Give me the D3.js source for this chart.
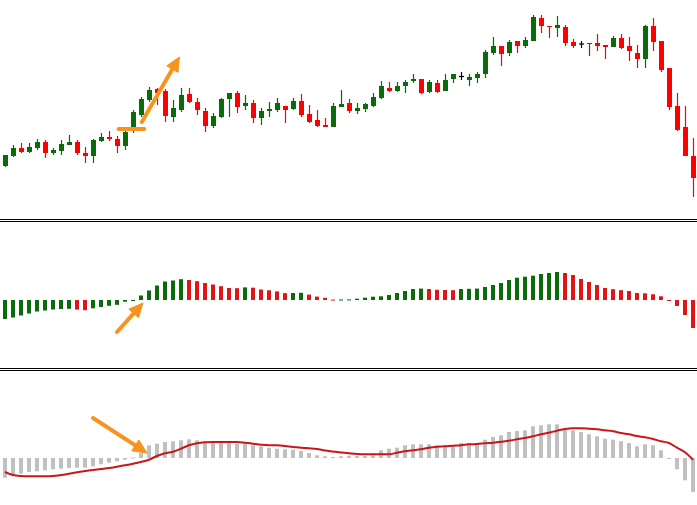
<!DOCTYPE html>
<html>
<head>
<meta charset="utf-8">
<script src="https://cdn.jsdelivr.net/npm/d3@7"></script>
<style>
  html, body { margin: 0; padding: 0; background: #ffffff; overflow: hidden; }
  svg { display: block; }
</style>
</head>
<body>
<div id="wrapper"></div>
<script>
// price bars (one entry per candle)
const opens = [34, 44, 52, 48, 52, 58, 47, 49, 55, 58, 47, 44, 59, 63, 61, 54, 72, 85, 100, 111,
  109, 83, 90, 106, 98, 89, 74, 83, 101, 107, 94, 97, 82, 89, 90, 94, 91, 99, 86, 80,
  75, 73, 93, 97, 89, 91, 94, 102, 112, 109, 114, 119, 121, 108, 117, 109, 121, 123.5, 120, 122,
  126, 147, 154, 147, 159, 154, 159, 182, 174, 172, 173, 158, 156, 156, 157, 155, 153, 162, 154, 147,
  141, 174, 159, 132, 94, 73, 44]
const highs = [45, 55, 57, 57, 61, 60, 52, 60, 65, 60, 53, 61, 67, 69, 64, 72, 90, 103, 113, 112,
  111, 100, 112, 112, 102, 92, 87, 102, 107, 109, 105, 100, 92, 98, 102, 94, 102, 106, 95, 90,
  82, 97, 110, 101, 97, 97, 107, 119, 118, 118, 120, 126, 121, 120, 120, 126, 126, 128, 126, 128,
  150, 163, 154, 160, 159, 163, 185, 185, 174, 184, 175, 161, 159, 157, 166, 155, 164, 166, 163, 155,
  175, 182, 159, 132, 107, 94, 62]
const lows = [33, 43, 47, 47, 50, 42, 45, 45, 55, 45, 37, 37, 58, 59, 47, 50, 67, 83, 98, 95,
  78, 78, 88, 97, 85, 68, 72, 82, 83, 87, 90, 77, 75, 83, 88, 77, 90, 83, 77, 73,
  73, 73, 93, 87, 86, 88, 93, 101, 108, 108, 107, 117, 106, 107, 107, 109, 117, 120, 114, 117,
  122, 145, 134, 144, 147, 152, 159, 167, 162, 163, 154, 152, 152, 144, 149, 141, 153, 151, 139, 132,
  132, 149, 128, 90, 69, 44, 3]
const closes = [45, 52, 48, 53, 58, 47, 50, 56, 58, 47, 44, 60, 63, 61, 54, 68, 88, 101, 110, 107,
  84, 92, 105, 98, 90, 74, 84, 101, 107, 93, 97, 82, 89, 91, 97, 90, 99, 85, 78, 74,
  73, 94, 96, 89, 92, 96, 103, 114, 109, 114, 118, 121, 107, 118, 108, 120, 126, 123.5, 123, 126,
  148, 154, 146, 158, 154, 160, 183, 174, 173, 175, 157, 154, 156, 157, 154, 153, 162, 152, 149, 141,
  174, 158, 130, 93, 70, 44, 22]

// oscillator histogram (middle pane)
const oscValues = [-19, -17.5, -15.5, -13.5, -11.5, -10.5, -9.5, -9, -8.8, -9.6,
  -10.2, -8.3, -7, -5.8, -4.8, -1.7, -0.8, 4.5, 9.5, 14.5,
  18.5, 19.5, 20.8, 20, 18.8, 17, 15.5, 13.8, 12, 11.8,
  12.6, 12.3, 10.5, 9.7, 8.6, 6.8, 7, 7.2, 5.4, 3.4,
  2.2, 0.4, 0.5, 0.6, 1.3, 2.3, 3.3, 3.7, 5, 7,
  9, 11, 11.4, 11, 10.2, 10, 9.8, 11, 11.2, 11.4,
  13, 15, 17, 20, 22.3, 23.3, 24.3, 26, 27, 28,
  27, 25, 21, 18, 15, 12, 10.8, 9.8, 9, 7,
  6.7, 5.7, 3.7, -0.6, -6, -15, -28]

// MACD main (grey histogram) and signal line (bottom pane)
const macdValues = [-19.7, -17.3, -15.7, -14, -13.3, -12.3, -11.3, -10.7, -10, -9.7,
  -9.7, -8.3, -6.3, -4.7, -3.3, -1.7, 0.5, 5, 12.7, 14.3,
  16, 16.7, 17.7, 18.7, 17.7, 16.7, 16, 16, 15, 14.3,
  14.3, 12.7, 11.7, 10.3, 9.3, 8.7, 8.3, 7, 5, 2.7,
  1.7, 1, 1.7, 2.3, 2, 2, 2.7, 7.7, 9.3, 10.3,
  12.7, 13.7, 13.7, 13.7, 12.7, 12.7, 12.7, 15, 15, 15,
  18.3, 21, 22.7, 26, 27, 27.7, 31.7, 32.7, 33.7, 33.7,
  29.3, 27.7, 26, 23.7, 21.7, 19.3, 18.3, 16.7, 15, 11.7,
  13.7, 12.7, 7.7, -0.7, -11.3, -22.3, -34]
const signalValues = [-14, -17, -18, -18.3, -18.3, -18.3, -18, -17, -15.7, -14.3,
  -13, -12, -11, -10, -8.7, -7.3, -5.7, -4, -1.7, 2,
  4.7, 6.3, 9.3, 12.7, 14.7, 15.7, 16, 16, 16, 16,
  15.3, 14.3, 13.3, 12.7, 12.7, 12, 11, 10.3, 9.7, 9,
  7.5, 6.5, 5.5, 4.7, 4, 3.7, 3.7, 3.7, 3.7, 5.3,
  6.7, 7.7, 8.7, 10.3, 11.3, 11.7, 12.3, 12.7, 13.7, 14,
  14.7, 15.3, 16.3, 17.3, 18.7, 20, 21.7, 23.7, 25.3, 27.3,
  29, 29.7, 29.7, 29.3, 28.7, 27.7, 26.7, 25, 23.7, 22,
  20.7, 19, 16.7, 15, 10.3, 5.7, -1.7]

// hand drawn marks: [bar index, value]
const breakoutLine = [[14.2, 71], [17.4, 71]]
const priceArrow = [[17.1, 78], [21.8, 143]]
const oscArrow = [[14, -32], [17.25, -3]]
const macdArrow = [[11, 40], [17.75, 5]]

function drawChart() {
  const candles = opens.map((o, i) => ({
    i, open: o, high: highs[i], low: lows[i], close: closes[i]
  }))

  // 1. Dimensions
  const dimensions = {
    width: 697,
    height: 505,
    price: { top: 0, bottom: 200 },
    osc: { zero: 300 },
    macd: { zero: 458 },
    separators: [219.5, 221.5, 368.5, 370.5]
  }

  const green = "#0b6b0b"
  const red = "#ff0000"
  const histRed = "#e01515"
  const grey = "#c0c0c0"
  const orange = "#f7931e"

  // 2. Canvas
  const svg = d3.select("#wrapper")
    .append("svg")
      .attr("width", dimensions.width)
      .attr("height", dimensions.height)

  // 3. Scales
  const xScale = d3.scaleBand()
    .domain(d3.range(candles.length))
    .range([1, dimensions.width])
  const step = xScale.bandwidth()
  const xMid = i => xScale(0) + step * i + step / 2

  const priceScale = d3.scaleLinear()
    .domain([0, 200])
    .range([dimensions.price.bottom, dimensions.price.top])

  const oscScale = d3.scaleLinear()
    .domain([-40, 40])
    .range([dimensions.osc.zero + 40, dimensions.osc.zero - 40])

  const macdScale = d3.scaleLinear()
    .domain([-40, 40])
    .range([dimensions.macd.zero + 40, dimensions.macd.zero - 40])

  // 4. Pane separators
  svg.append("g")
    .selectAll("line")
    .data(dimensions.separators)
    .join("line")
      .attr("x1", 0)
      .attr("x2", dimensions.width)
      .attr("y1", d => d)
      .attr("y2", d => d)
      .attr("stroke", "#000")
      .attr("stroke-width", 1.2)

  // 5. Candles
  const candleColor = d => d.close > d.open ? green : d.close < d.open ? red : "#000"
  const candleGroups = svg.append("g")
    .selectAll("g")
    .data(candles)
    .join("g")

  candleGroups.append("line")
      .attr("x1", d => xScale(d.i) + 4.5)
      .attr("x2", d => xScale(d.i) + 4.5)
      .attr("y1", d => priceScale(d.high))
      .attr("y2", d => priceScale(d.low))
      .attr("stroke", candleColor)
      .attr("stroke-width", 1.2)

  candleGroups.append("rect")
      .attr("x", d => xScale(d.i) + 2)
      .attr("width", 5)
      .attr("y", d => d.open === d.close
        ? priceScale(d.open) - 0.6
        : priceScale(Math.max(d.open, d.close)))
      .attr("height", d => d.open === d.close
        ? 1.2
        : Math.max(1, Math.abs(priceScale(d.open) - priceScale(d.close))))
      .attr("fill", candleColor)

  // 6. Oscillator histogram
  svg.append("g")
    .selectAll("rect")
    .data(oscValues)
    .join("rect")
      .attr("x", (d, i) => xScale(i) + 2)
      .attr("width", 4)
      .attr("y", d => Math.min(oscScale(d), oscScale(0)))
      .attr("height", d => Math.max(1, Math.abs(oscScale(d) - oscScale(0))))
      .attr("fill", (d, i) => i === 0 || d >= oscValues[i - 1] ? green : histRed)

  // 7. MACD histogram + signal
  svg.append("g")
    .selectAll("rect")
    .data(macdValues)
    .join("rect")
      .attr("x", (d, i) => xScale(i) + 2)
      .attr("width", 4)
      .attr("y", d => Math.min(macdScale(d), macdScale(0)))
      .attr("height", d => Math.max(1, Math.abs(macdScale(d) - macdScale(0))))
      .attr("fill", grey)

  const signalLine = d3.line()
    .x((d, i) => xMid(i))
    .y(d => macdScale(d))
    .curve(d3.curveMonotoneX)

  svg.append("path")
      .datum(signalValues)
      .attr("d", signalLine)
      .attr("fill", "none")
      .attr("stroke", "#c8161d")
      .attr("stroke-width", 2)

  // 8. Annotations
  const annotations = svg.append("g")

  annotations.append("line")
      .attr("x1", xMid(breakoutLine[0][0]))
      .attr("x2", xMid(breakoutLine[1][0]))
      .attr("y1", priceScale(breakoutLine[0][1]))
      .attr("y2", priceScale(breakoutLine[1][1]))
      .attr("stroke", orange)
      .attr("stroke-width", 4)
      .attr("stroke-linecap", "round")

  const drawArrow = ([from, to], yScale) => {
    const x1 = xMid(from[0]), y1 = yScale(from[1])
    const x2 = xMid(to[0]), y2 = yScale(to[1])
    const angle = Math.atan2(y2 - y1, x2 - x1)
    const headLength = 14
    const headHalf = 6.5
    const bx = x2 - headLength * Math.cos(angle)
    const by = y2 - headLength * Math.sin(angle)
    annotations.append("line")
        .attr("x1", x1)
        .attr("y1", y1)
        .attr("x2", bx + Math.cos(angle))
        .attr("y2", by + Math.sin(angle))
        .attr("stroke", orange)
        .attr("stroke-width", 4)
        .attr("stroke-linecap", "round")
    const px = -Math.sin(angle), py = Math.cos(angle)
    annotations.append("path")
        .attr("d", `M${x2},${y2}L${bx + px * headHalf},${by + py * headHalf}L${bx - px * headHalf},${by - py * headHalf}Z`)
        .attr("fill", orange)
        .attr("stroke", orange)
        .attr("stroke-width", 1)
        .attr("stroke-linejoin", "round")
  }

  drawArrow(priceArrow, priceScale)
  drawArrow(oscArrow, oscScale)
  drawArrow(macdArrow, macdScale)
}

drawChart()
</script>
</body>
</html>
